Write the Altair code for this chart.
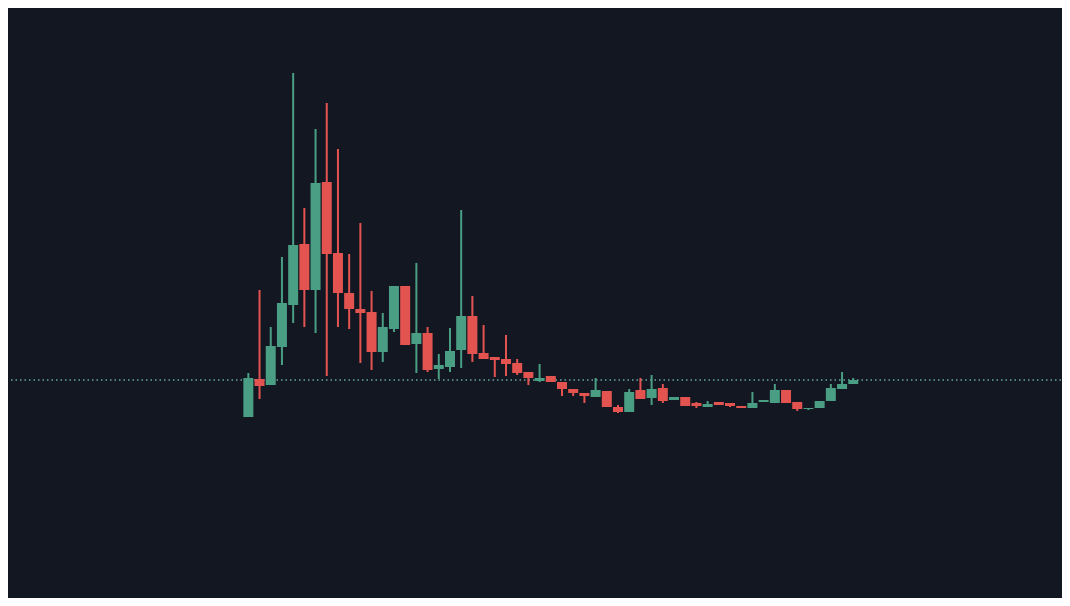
import altair as alt
import pandas as pd

# Candles (price units), index = bar number
opens  = [183, 221, 215, 253, 295, 356, 310, 418, 347, 307, 291, 288, 248, 271, 314, 256, 267, 231, 233, 250,
          284, 247, 243, 241, 237, 228, 219, 224, 218, 211, 207, 203, 209, 193, 188, 210, 202, 212, 200, 203,
          197, 193, 198, 197, 194, 192, 198, 197, 210, 198, 191, 192, 199, 211, 216]
closes = [222, 214, 254, 297, 355, 310, 417, 346, 307, 291, 287, 248, 273, 314, 255, 267, 230, 235, 249, 284,
          246, 241, 240, 236, 227, 222, 222, 218, 211, 207, 204, 210, 193, 188, 208, 201, 211, 199, 203, 194,
          194, 196, 195, 194, 192, 197, 200, 210, 197, 191, 192, 199, 212, 216, 220]
highs  = [227, 310, 273, 343, 527, 392, 471, 497, 451, 346, 377, 309, 287, 314, 314, 337, 273, 246, 272, 390,
          304, 275, 243, 265, 241, 228, 236, 224, 218, 211, 207, 222, 209, 195, 211, 222, 225, 216, 203, 203,
          198, 199, 198, 197, 194, 208, 200, 216, 210, 198, 192, 199, 216, 228, 222]
lows   = [183, 201, 215, 235, 277, 273, 267, 224, 273, 271, 237, 230, 238, 268, 255, 227, 228, 221, 228, 232,
          238, 241, 223, 224, 225, 215, 218, 218, 204, 204, 197, 203, 193, 187, 188, 201, 195, 197, 200, 194,
          192, 193, 195, 193, 192, 192, 198, 197, 197, 189, 190, 192, 199, 211, 216]
last_price = [220]

df = pd.DataFrame({
    "i": list(range(len(opens))),
    "open": opens, "close": closes, "high": highs, "low": lows,
})
df["dir"] = ["up" if c >= o else "down" for o, c in zip(opens, closes)]

xscale = alt.Scale(domain=[-20.92, 72.1], nice=False, zero=False)
yscale = alt.Scale(domain=[2, 592], nice=False, zero=False)
color = alt.Color("dir:N", scale=alt.Scale(domain=["up", "down"], range=["#4a9e84", "#e35450"]), legend=None)

base = alt.Chart(df).encode(
    x=alt.X("i:Q", scale=xscale, axis=None),
    color=color,
)

wicks = base.mark_rule(strokeWidth=2).encode(
    y=alt.Y("low:Q", scale=yscale, axis=None),
    y2="high:Q",
)

bodies = base.mark_bar(size=10, cornerRadius=0).encode(
    y=alt.Y("open:Q", scale=yscale, axis=None),
    y2="close:Q",
)

price_line = alt.Chart(pd.DataFrame({"p": last_price})).mark_rule(
    color="#6cb3a8", strokeDash=[1.5, 3], strokeWidth=1.6, opacity=0.95
).encode(y=alt.Y("p:Q", scale=yscale, axis=None))

chart = alt.layer(price_line, wicks, bodies).properties(
    width=1054, height=590,
    background="#131722",
    padding=0,
    autosize=alt.AutoSizeParams(type="fit", contains="padding"),
).configure_view(stroke=None, fill="#131722")

chart.save("out.html", embed_options={"renderer": "svg", "actions": False})
